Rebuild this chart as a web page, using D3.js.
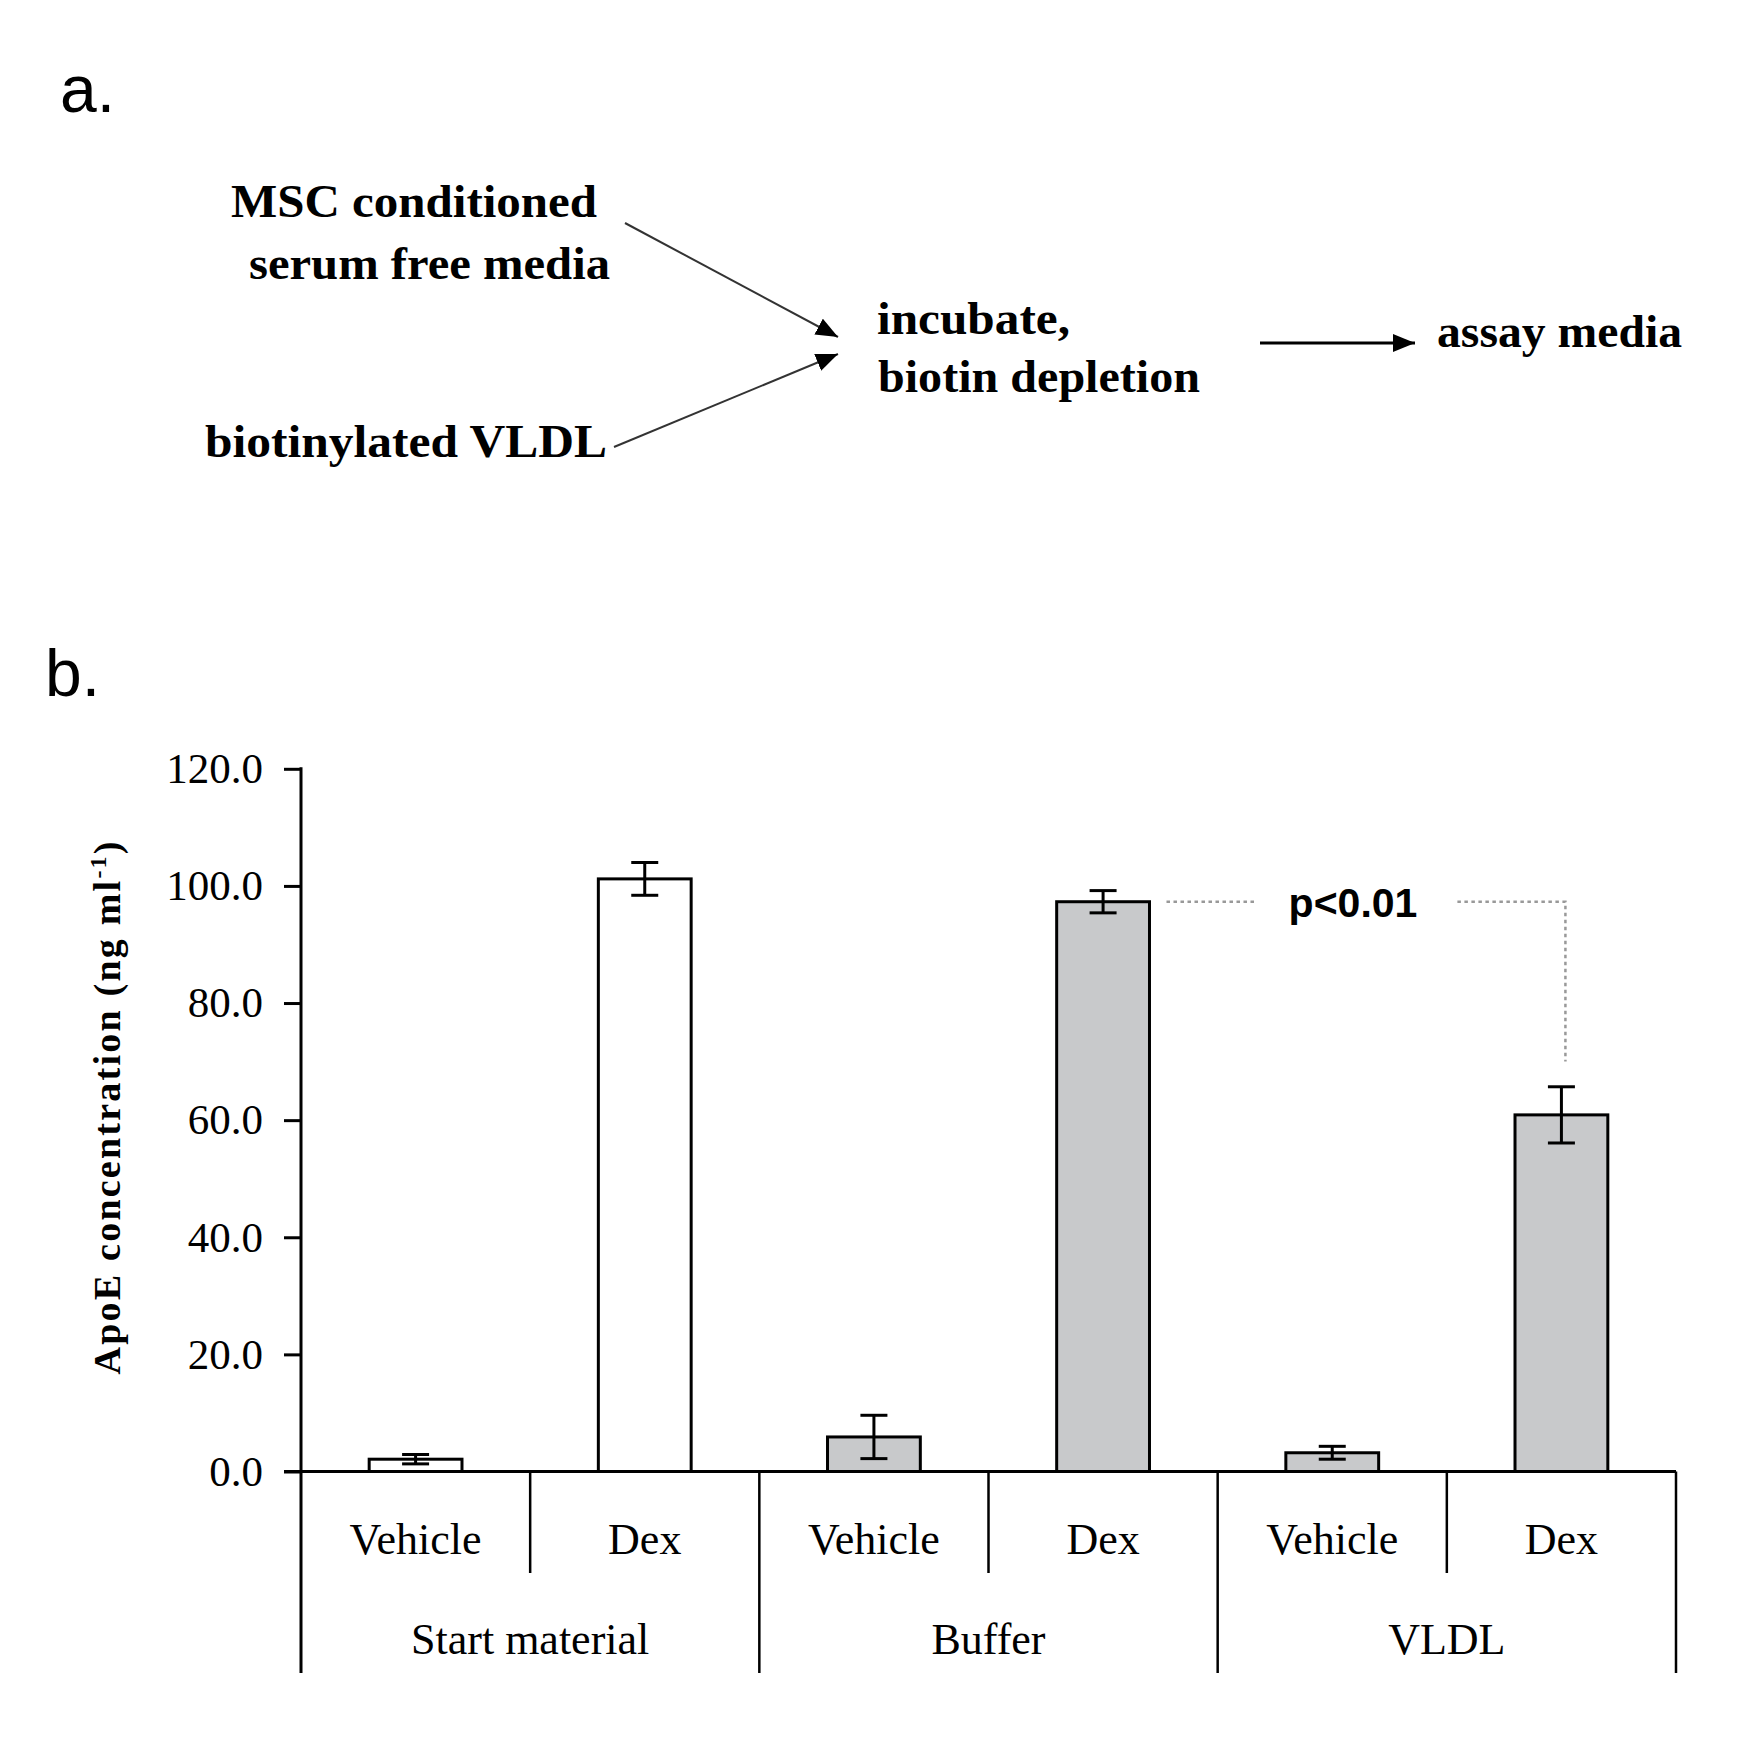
<!DOCTYPE html>
<html>
<head>
<meta charset="utf-8">
<script src="https://cdn.jsdelivr.net/npm/d3@7"></script>
<style>
  body { margin: 0; background: #fff; }
</style>
</head>
<body>
<div id="chart"></div>
<script>
// chart data (panel b)
var groups = ["Start material", "Buffer", "VLDL"];
var treatments = ["Vehicle", "Dex", "Vehicle", "Dex", "Vehicle", "Dex"];
var barGroup = [0, 0, 1, 1, 2, 2];
var means = [2.1, 101.2, 5.9, 97.3, 3.2, 60.9];
var errors = [0.8, 2.8, 3.7, 1.9, 1.1, 4.8];
var yTicks = [0, 20, 40, 60, 80, 100, 120];
var sigPair = [3, 5];
var sigDrop = 70;
var sigLabel = "p<0.01";

// panel a labels
var sourceLabels = [["MSC conditioned", "serum free media"], ["biotinylated VLDL"]];
var stepLabels = ["incubate,", "biotin depletion"];
var outLabel = "assay media";

var W = 1742, H = 1763;
var svg = d3.select("#chart").append("svg")
    .attr("width", W).attr("height", H)
    .style("font-family", "'Liberation Serif', 'Times New Roman', serif");

var defs = svg.append("defs");
defs.append("marker")
    .attr("id", "head")
    .attr("markerUnits", "userSpaceOnUse")
    .attr("viewBox", "0 0 22 18")
    .attr("refX", 22).attr("refY", 9)
    .attr("markerWidth", 22).attr("markerHeight", 18)
    .attr("orient", "auto")
  .append("path")
    .attr("d", "M0,0 L22,9 L0,18 Z")
    .attr("fill", "#000");

// ---------- panel a ----------
svg.append("text")
    .attr("x", 60).attr("y", 112)
    .style("font-family", "Arial, 'Liberation Sans', sans-serif")
    .style("font-size", "66px")
    .text("a.");

var diagText = [
  {t: sourceLabels[0][0], x: 231, y: 217, len: 366},
  {t: sourceLabels[0][1], x: 249, y: 279, len: 361},
  {t: sourceLabels[1][0], x: 205, y: 457, len: 402},
  {t: stepLabels[0], x: 877, y: 334, len: 193},
  {t: stepLabels[1], x: 878, y: 392, len: 322},
  {t: outLabel, x: 1437, y: 347, len: 245}
];
svg.append("g").selectAll("text")
  .data(diagText)
  .enter().append("text")
    .attr("x", function(d) { return d.x; })
    .attr("y", function(d) { return d.y; })
    .attr("textLength", function(d) { return d.len; })
    .attr("lengthAdjust", "spacingAndGlyphs")
    .style("font-size", "46px")
    .style("font-weight", "bold")
    .text(function(d) { return d.t; });

var arrows = [
  {x1: 625, y1: 223, x2: 838, y2: 337, w: 2, c: "#333"},
  {x1: 614, y1: 447, x2: 838, y2: 354, w: 2, c: "#333"},
  {x1: 1260, y1: 343, x2: 1415, y2: 343, w: 3, c: "#000"}
];
svg.append("g").selectAll("line")
  .data(arrows)
  .enter().append("line")
    .attr("x1", function(d) { return d.x1; })
    .attr("y1", function(d) { return d.y1; })
    .attr("x2", function(d) { return d.x2; })
    .attr("y2", function(d) { return d.y2; })
    .attr("stroke", function(d) { return d.c; })
    .attr("stroke-width", function(d) { return d.w; })
    .attr("marker-end", "url(#head)");

// ---------- panel b ----------
svg.append("text")
    .attr("x", 45).attr("y", 696)
    .style("font-family", "Arial, 'Liberation Sans', sans-serif")
    .style("font-size", "66px")
    .text("b.");

var x0 = 301, x1 = 1676, yTop = 768.8, yZero = 1471.5;
var keys = d3.range(means.length);

var x = d3.scaleBand()
    .domain(keys)
    .range([x0, x1])
    .padding(0);
var bw = x.bandwidth();
var barW = bw * 0.405;

var xg = d3.scaleBand()
    .domain(d3.range(groups.length))
    .range([x0, x1])
    .padding(0);

var y = d3.scaleLinear()
    .domain([0, 120])
    .range([yZero, yTop]);

// Y axis
var yAxis = svg.append("g")
    .attr("transform", "translate(" + x0 + ",0)")
    .call(d3.axisLeft(y).tickValues(yTicks).tickFormat(d3.format(".1f"))
      .tickSize(17).tickPadding(21));
yAxis.select(".domain").remove();
yAxis.selectAll(".tick line").attr("stroke", "#000").attr("stroke-width", 3);
yAxis.selectAll(".tick text")
    .style("font-family", "'Liberation Serif', 'Times New Roman', serif")
    .style("font-size", "43px")
    .attr("fill", "#000");
yAxis.append("line")
    .attr("x1", 0).attr("x2", 0)
    .attr("y1", yTop - 1.5).attr("y2", 1673)
    .attr("stroke", "#000").attr("stroke-width", 3);

// y label
var yl = svg.append("text")
    .attr("transform", "translate(120,1108) rotate(-90)")
    .attr("text-anchor", "middle")
    .attr("textLength", 533)
    .attr("lengthAdjust", "spacing")
    .style("font-size", "38px")
    .style("font-weight", "bold");
yl.append("tspan").text("ApoE concentration (ng ml");
yl.append("tspan").attr("dy", -14).style("font-size", "24px").text("-1");
yl.append("tspan").attr("dy", 14).text(")");

// bars
svg.append("g").selectAll("rect")
  .data(keys)
  .enter().append("rect")
    .attr("x", function(i) { return x(i) + (bw - barW) / 2; })
    .attr("y", function(i) { return y(means[i]); })
    .attr("width", barW)
    .attr("height", function(i) { return y(0) - y(means[i]); })
    .attr("fill", function(i) { return barGroup[i] === 0 ? "#ffffff" : "#c8c9cb"; })
    .attr("stroke", "#000")
    .attr("stroke-width", 3);

// error bars
var capW = 27;
var eb = svg.append("g").attr("stroke", "#000").attr("stroke-width", 3);
keys.forEach(function(i) {
  var cx = x(i) + bw / 2;
  eb.append("line")
    .attr("x1", cx).attr("x2", cx)
    .attr("y1", y(means[i] + errors[i])).attr("y2", y(means[i] - errors[i]));
  [means[i] + errors[i], means[i] - errors[i]].forEach(function(v) {
    eb.append("line")
      .attr("x1", cx - capW / 2).attr("x2", cx + capW / 2)
      .attr("y1", y(v)).attr("y2", y(v));
  });
});

// x axis baseline
svg.append("line")
    .attr("x1", x0 - 17).attr("x2", x1)
    .attr("y1", yZero).attr("y2", yZero)
    .attr("stroke", "#000").attr("stroke-width", 3);

// category separators
var sep = svg.append("g").attr("stroke", "#000").attr("stroke-width", 2.5);
keys.slice(1).forEach(function(i) {
  if (barGroup[i] === barGroup[i - 1]) {
    sep.append("line").attr("x1", x(i)).attr("x2", x(i))
      .attr("y1", yZero).attr("y2", 1573);
  }
});
d3.range(1, groups.length + 1).forEach(function(g) {
  var gx = g < groups.length ? xg(g) : x1;
  sep.append("line").attr("x1", gx).attr("x2", gx)
    .attr("y1", yZero).attr("y2", 1673);
});

// treatment labels
svg.append("g").selectAll("text")
  .data(keys)
  .enter().append("text")
    .attr("x", function(i) { return x(i) + bw / 2; })
    .attr("y", 1554)
    .attr("text-anchor", "middle")
    .style("font-size", "44px")
    .text(function(i) { return treatments[i]; });

// group labels
svg.append("g").selectAll("text")
  .data(groups)
  .enter().append("text")
    .attr("x", function(d, g) { return xg(g) + xg.bandwidth() / 2; })
    .attr("y", 1654)
    .attr("text-anchor", "middle")
    .style("font-size", "44px")
    .text(function(d) { return d; });

// significance bracket
var sA = sigPair[0], sB = sigPair[1];
var bracketY = y(means[sA]);
var leftX = x(sA) + (bw + barW) / 2 + 17;
var rightX = x(sB) + bw / 2 + 4;
var txtX = 1353;
var sigText = svg.append("text")
    .attr("x", txtX).attr("y", bracketY + 15)
    .attr("text-anchor", "middle")
    .style("font-family", "Arial, 'Liberation Sans', sans-serif")
    .style("font-weight", "bold")
    .style("font-size", "41px")
    .text(sigLabel);
var tb = sigText.node().getBBox();
var dotted = svg.append("g")
    .attr("stroke", "#999").attr("stroke-width", 2.5)
    .attr("stroke-dasharray", "3.5,3.5").attr("fill", "none");
dotted.append("line")
    .attr("x1", leftX).attr("x2", tb.x - 34)
    .attr("y1", bracketY).attr("y2", bracketY);
dotted.append("path")
    .attr("d", "M" + (tb.x + tb.width + 40) + "," + bracketY +
               " H" + rightX + " V" + y(sigDrop));
</script>
</body>
</html>
